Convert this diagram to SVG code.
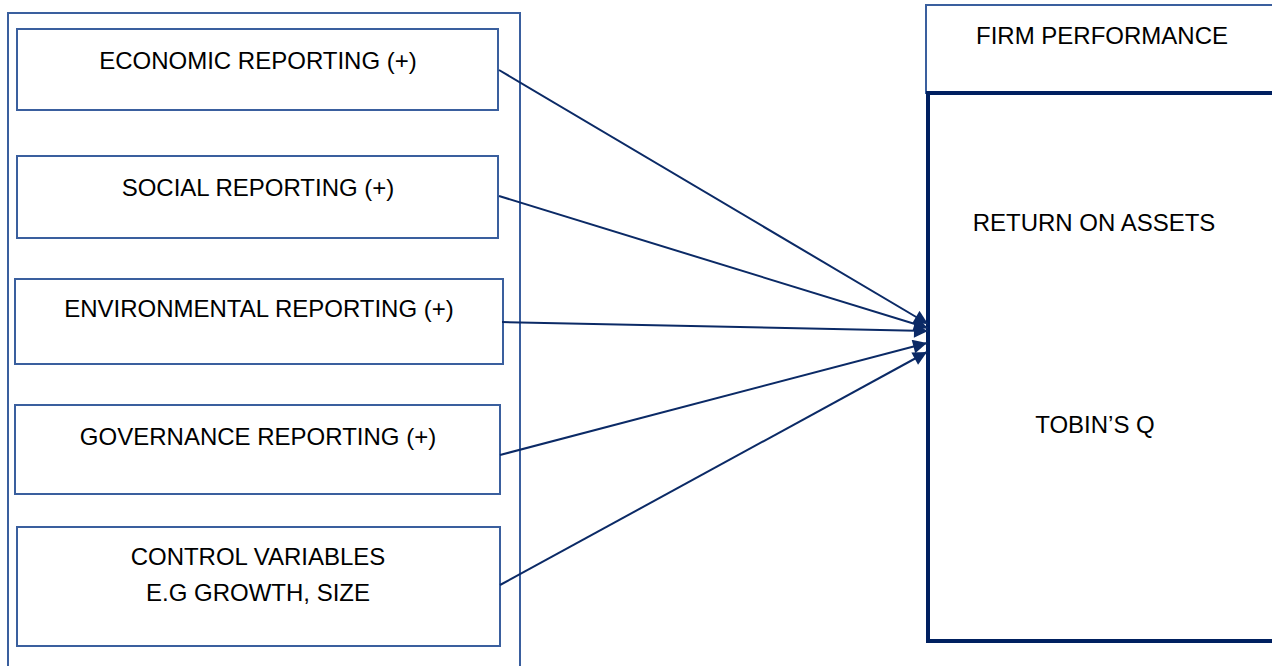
<svg xmlns="http://www.w3.org/2000/svg" width="1272" height="666" viewBox="0 0 1272 666">
<defs>
<style>
.t{font-family:"Liberation Sans",Arial,sans-serif;font-size:24px;fill:#000;text-anchor:middle}
.box{fill:#fff;stroke:#3a5f9e;stroke-width:2}
.big{fill:#fff;stroke:#002060;stroke-width:4}
.con{stroke:#0b2a66;stroke-width:2;fill:none}
</style>
<marker id="ah" viewBox="0 0 10 10" refX="10" refY="5" markerWidth="8" markerHeight="7" orient="auto" markerUnits="strokeWidth">
<path d="M0,0 L10,5 L0,10 z" fill="#0b2a66"/>
</marker>
</defs>
<rect width="1272" height="666" fill="#fff"/>
<g id="outer-left"><rect class="box" x="8" y="13" width="512" height="670"/></g>
<g id="firm-performance"><rect class="box" x="926" y="5" width="360" height="88"/><text class="t" x="1102" y="44">FIRM PERFORMANCE</text></g>
<g id="measures"><rect class="big" x="928" y="93" width="360" height="548"/>
<text class="t" x="1094" y="231">RETURN ON ASSETS</text>
<text class="t" x="1095" y="433">TOBIN’S Q</text></g>
<g id="economic"><rect class="box" x="17" y="29" width="481" height="81"/><text class="t" x="258" y="69">ECONOMIC REPORTING (+)</text></g>
<g id="social"><rect class="box" x="17" y="156" width="481" height="82"/><text class="t" x="258" y="196">SOCIAL REPORTING (+)</text></g>
<g id="environmental"><rect class="box" x="15" y="279" width="488" height="85"/><text class="t" x="259" y="317">ENVIRONMENTAL REPORTING (+)</text></g>
<g id="governance"><rect class="box" x="15" y="405" width="485" height="89"/><text class="t" x="258" y="445">GOVERNANCE REPORTING (+)</text></g>
<g id="control"><rect class="box" x="17" y="527" width="483" height="119"/><text class="t" x="258" y="565">CONTROL VARIABLES</text><text class="t" x="258" y="601">E.G GROWTH, SIZE</text></g>
<g id="connectors">
<line class="con" x1="499" y1="70" x2="928" y2="324" marker-end="url(#ah)"/>
<line class="con" x1="499" y1="196" x2="928" y2="328" marker-end="url(#ah)"/>
<line class="con" x1="502" y1="322" x2="928" y2="331" marker-end="url(#ah)"/>
<line class="con" x1="500" y1="455" x2="927" y2="343" marker-end="url(#ah)"/>
<line class="con" x1="500" y1="585" x2="927" y2="352" marker-end="url(#ah)"/>
</g>
</svg>
